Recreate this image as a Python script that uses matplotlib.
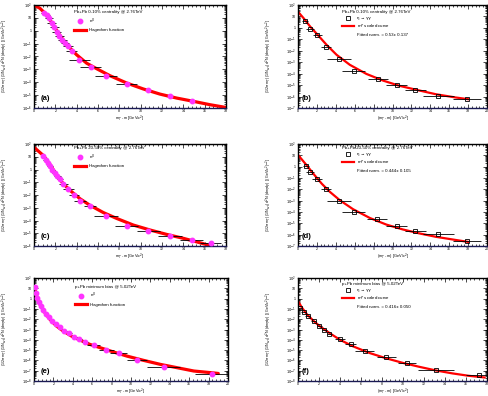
import matplotlib
matplotlib.use('Agg')
import matplotlib.pyplot as plt
from matplotlib.lines import Line2D
from matplotlib.ticker import (LogLocator, FuncFormatter, MultipleLocator,
                               AutoMinorLocator, NullFormatter)
import numpy as np

plt.rcParams['font.family'] = ['Liberation Sans', 'DejaVu Sans']
plt.rcParams['mathtext.fontset'] = 'dejavusans'

# ---------------- data ----------------
# (a) Pb+Pb 0-10% pi0 + Hagedorn
a_pi0_x = [0.97, 1.19, 1.41, 1.66, 1.91, 2.13, 2.38, 2.66, 2.91, 3.16, 3.53, 4.25, 5.31, 6.75, 8.69, 10.72, 12.75, 14.8]
a_pi0_y = [26, 17, 9.3, 4.3, 1.9, 0.87, 0.40, 0.19, 0.12, 0.068, 0.025, 5.5e-3, 1.5e-3, 3.2e-4, 7.6e-5, 2.3e-5, 8.9e-6, 3.5e-6]
a_pi0_xerr = [0.35, 0.35, 0.4, 0.4, 0.4, 0.4, 0.4, 0.4, 0.4, 0.45, 0.5, 1.0, 1.0, 1.0, 1.0, 0, 0, 0]
a_fit_x = [0, 0.56, 1.19, 1.81, 2.28, 2.75, 3.38, 4.0, 4.94, 5.88, 7.13, 8.69, 10.25, 11.81, 13.38, 14.94, 16.5, 18.0]
a_fit_y = [100, 55, 17, 2.8, 0.65, 0.19, 0.045, 0.0135, 3.0e-3, 1.12e-3, 3.2e-4, 8.7e-5, 3.0e-5, 1.2e-5, 5.9e-6, 3.3e-6, 1.8e-6, 1.1e-6]

# (b) Pb+Pb 0-10% eta + mT scaled
b_eta_x = [0.77, 1.29, 2.06, 2.97, 4.34, 5.9, 8.46, 10.45, 12.41, 14.86, 17.9]
b_eta_y = [4.3, 0.87, 0.24, 0.023, 1.8e-3, 1.55e-4, 3.3e-5, 9.3e-6, 3.9e-6, 1.23e-6, 6.3e-7]
b_eta_xerr = [0.3, 0.4, 0.5, 0.5, 1.3, 1.2, 1.1, 1.1, 1.1, 1.6, 1.5]
b_fit_x = [0, 0.6, 1.29, 1.99, 3.04, 4.09, 5.49, 7.24, 8.99, 10.73, 12.83, 14.58, 16.68, 18.0]
b_fit_y = [26, 6.9, 1.3, 0.30, 0.032, 4.4e-3, 5.9e-4, 9.5e-5, 2.5e-5, 8.7e-6, 3.4e-6, 1.6e-6, 8.3e-7, 5.9e-7]

# (c) Pb+Pb 20-50% pi0 + Hagedorn
c_pi0_x = [0.875, 1.09, 1.31, 1.5, 1.72, 1.94, 2.19, 2.44, 2.75, 3.22, 3.75, 4.31, 5.25, 6.75, 8.69, 10.72, 12.75, 14.78, 16.56]
c_pi0_y = [11, 6.0, 3.3, 1.8, 1.0, 0.55, 0.30, 0.17, 0.076, 0.028, 9.3e-3, 3.4e-3, 1.4e-3, 2.3e-4, 3.8e-5, 1.55e-5, 6.0e-6, 3.0e-6, 1.8e-6]
c_pi0_xerr = [0.2, 0.2, 0.2, 0.25, 0.25, 0.25, 0.3, 0.3, 0.4, 0.5, 0.5, 0.6, 0.6, 1.1, 1.1, 1.1, 1.1, 1.1, 1.0]
c_fit_x = [0, 0.875, 1.5, 2.13, 2.75, 3.38, 4.31, 5.25, 6.5, 7.75, 9.31, 10.88, 12.44, 14.0, 15.56, 16.3]
c_fit_y = [55, 12.6, 2.5, 0.34, 0.076, 0.023, 5.1e-3, 1.55e-3, 4.2e-4, 1.45e-4, 4.4e-5, 1.8e-5, 8.1e-6, 4.0e-6, 1.8e-6, 1.2e-6]

# (d) Pb+Pb 20-50% eta + mT scaled
d_eta_x = [0.87, 1.29, 1.99, 2.97, 4.34, 5.9, 8.36, 10.45, 12.41, 14.86, 17.9]
d_eta_y = [1.26, 0.37, 0.074, 9.8e-3, 9.3e-4, 1.0e-4, 2.3e-5, 6.0e-6, 2.3e-6, 1.1e-6, 2.9e-7]
d_eta_xerr = [0.3, 0.4, 0.5, 0.5, 1.3, 1.2, 1.1, 1.1, 1.1, 1.6, 1.5]
d_fit_x = [0, 0.94, 1.64, 2.52, 3.39, 4.44, 5.84, 7.59, 9.34, 11.08, 12.83, 14.58, 16.33, 18.0]
d_fit_y = [11, 1.26, 0.23, 0.031, 5.8e-3, 1.07e-3, 1.74e-4, 3.0e-5, 7.8e-6, 2.9e-6, 1.3e-6, 6.5e-7, 3.8e-7, 2.3e-7]

# (e) p+Pb pi0 + Hagedorn
e_pi0_x = [0.07, 0.21, 0.34, 0.52, 0.72, 0.97, 1.24, 1.55, 1.9, 2.28, 2.69, 3.14, 3.62, 4.14, 4.69, 5.28, 6.14, 7.45, 8.72, 10.62, 13.38, 18.31]
e_pi0_y = [13.5, 3.5, 1.15, 0.45, 0.18, 0.074, 0.033, 0.0155, 7.4e-3, 3.5e-3, 1.7e-3, 7.9e-4, 4.1e-4, 1.95e-4, 1.07e-4, 5.9e-5, 2.8e-5, 1.0e-5, 4.8e-6, 1.07e-6, 2.5e-7, 5.1e-8]
e_pi0_xerr = [0.05, 0.05, 0.05, 0.1, 0.1, 0.1, 0.15, 0.15, 0.2, 0.2, 0.2, 0.25, 0.25, 0.25, 0.3, 0.3, 0.7, 0.8, 0.9, 1.0, 1.7, 1.7]
e_fit_x = [0, 0.28, 0.62, 1.14, 1.66, 2.34, 3.03, 3.9, 4.76, 5.79, 6.83, 8.21, 9.59, 11.31, 13.03, 14.76, 16.48, 18.2, 19.0]
e_fit_y = [15.5, 1.7, 0.26, 0.041, 9.3e-3, 2.1e-3, 6.9e-4, 2.2e-4, 9.3e-5, 3.5e-5, 1.7e-5, 6.5e-6, 2.6e-6, 1.0e-6, 4.1e-7, 1.95e-7, 9.3e-8, 6.5e-8, 5.4e-8]

# (f) p+Pb eta + mT scaled
f_eta_x = [0.22, 0.53, 0.91, 1.48, 2.04, 2.52, 2.99, 4.0, 5.0, 6.35, 8.4, 10.38, 13.11, 17.26]
f_eta_y = [0.13, 0.050, 0.020, 6.8e-3, 2.2e-3, 8.7e-4, 3.5e-4, 1.2e-4, 3.9e-5, 8.9e-6, 2.0e-6, 5.4e-7, 1.2e-7, 3.5e-8]
f_eta_xerr = [0.2, 0.2, 0.2, 0.25, 0.25, 0.25, 0.25, 0.5, 0.5, 0.9, 0.9, 0.9, 1.7, 1.3]
f_fit_x = [0, 0.38, 0.85, 1.48, 2.11, 3.05, 4.0, 5.25, 6.82, 8.4, 9.97, 11.54, 13.11, 14.69, 16.26, 17.77]
f_fit_y = [0.58, 0.13, 0.030, 6.8e-3, 1.95e-3, 4.2e-4, 1.0e-4, 2.3e-5, 5.2e-6, 1.6e-6, 5.8e-7, 2.4e-7, 1.07e-7, 5.5e-8, 3.2e-8, 2.2e-8]

titles = ['Pb+Pb 0-10% centrality @ 2.76TeV', 'Pb+Pb 0-10% centrality @ 2.76TeV',
          'Pb+Pb 20-50% centrality @ 2.76TeV', 'Pb+Pb 20-50% centrality @ 2.76TeV',
          'p+Pb minimum bias @ 5.02TeV', 'p+Pb minimum bias @ 5.02TeV']
fit_norms = ['Fitted norm. = 0.53\u00b1 0.137', 'Fitted norm. = 0.444\u00b1 0.105', 'Fitted norm. = 0.416\u00b1 0.050']
panel_labels = ['(a)', '(b)', '(c)', '(d)', '(e)', '(f)']

# ---------------- figure ----------------
W, H = 488, 396
fig = plt.figure(figsize=(W / 100, H / 100), dpi=100)

def ax_at(l, t, r, b):
    return fig.add_axes([l / W, 1 - b / H, (r - l) / W, (b - t) / H])

axes = [ax_at(34, 5, 226, 108), ax_at(298, 5, 487, 108),
        ax_at(34, 144, 226, 246), ax_at(298, 144, 487, 246),
        ax_at(34, 278, 228, 381), ax_at(298, 278, 487, 381)]

ylab_l = r'(1/2$\pi$ m$_T$) (1/N$_{evt}$) d$^2$N/(dm$_T$dy)  [(GeV/c$^2$)$^{-2}$]'
xlab_l = r'm$_T$ - m [GeV/c$^2$]'
xlab_r = r'(m$_T$ - m) [GeV/c$^2$]'


def logfmt(v, pos):
    e = int(round(np.log10(v)))
    if e == 0:
        return '1'
    if e == 1:
        return '10'
    return r'$10^{%d}$' % e


def style(ax, xmax, ymin, ymax, xlabel):
    ax.set_xlim(0, xmax)
    ax.set_yscale('log')
    ax.set_ylim(ymin, ymax)
    ax.xaxis.set_major_locator(MultipleLocator(2))
    ax.xaxis.set_minor_locator(AutoMinorLocator(5))
    ax.yaxis.set_major_locator(LogLocator(base=10, numticks=30))
    ax.yaxis.set_minor_locator(LogLocator(base=10, subs=np.arange(2, 10), numticks=30))
    ax.yaxis.set_major_formatter(FuncFormatter(logfmt))
    ax.yaxis.set_minor_formatter(NullFormatter())
    ax.tick_params(which='both', direction='in', top=True, right=True,
                   labelsize=2.6, pad=1.5, width=0.5, colors='black')
    ax.tick_params(axis='x', which='both', pad=1.0)
    ax.tick_params(which='major', length=3)
    ax.tick_params(which='minor', length=1.5)
    for s in ax.spines.values():
        s.set_linewidth(1.0)
    ax.spines['bottom'].set_color('#1a1a55')
    ax.set_xlabel(xlabel, fontsize=2.8, labelpad=0.3)
    ax.set_ylabel(ylab_l, fontsize=2.6)
    ax.yaxis.set_label_coords(-0.125, 0.5)


def pi0_panel(ax, x, y, xerr, fx, fy, title, lbl, xmax, ymin, legy):
    ax.plot(fx, fy, color='red', lw=2.3, zorder=2, solid_capstyle='round')
    ax.errorbar(x, y, xerr=xerr, fmt='o', color='#ff33ff', mec='#ff33ff',
                ms=3.2, ecolor='black', elinewidth=0.6, capsize=0, zorder=3)
    style(ax, xmax, ymin, 1e2, xlab_l)
    h = [Line2D([], [], ls='none', marker='o', color='#ff33ff', ms=3.2),
         Line2D([], [], color='red', lw=2.3)]
    ax.legend(h, [r'$\pi^0$', 'Hagedorn function'], title=title, loc='upper left',
              bbox_to_anchor=(0.21, legy), borderaxespad=0, borderpad=0,
              frameon=False, fontsize=3.2, title_fontsize=3.2, handlelength=2.7,
              handletextpad=0.7, labelspacing=0.55, alignment='left')
    ax.text(0.035, 0.09, lbl, transform=ax.transAxes, fontsize=5.5,
            fontweight='bold', va='center', ha='left')


def eta_panel(ax, x, y, xerr, fx, fy, title, norm, lbl, xmax, ymin, legy):
    ax.plot(fx, fy, color='red', lw=1.6, zorder=2)
    ax.errorbar(x, y, xerr=xerr, fmt='s', mfc='none', mec='black', ms=3.0, mew=0.6,
                ecolor='black', elinewidth=0.6, capsize=0, zorder=3)
    style(ax, xmax, ymin, 1e2, xlab_r)
    h = [Line2D([], [], ls='none', marker='s', mfc='none', mec='black', ms=3.0, mew=0.6),
         Line2D([], [], color='red', lw=1.6),
         Line2D([], [], ls='none')]
    ax.legend(h, ['\u03b7 \u2192 \u03b3\u03b3', r'm$_T$ scaled curve', norm], title=title,
              loc='upper left', bbox_to_anchor=(0.235, legy), borderaxespad=0, borderpad=0,
              frameon=False, fontsize=3.2, title_fontsize=3.2, handlelength=2.5,
              handletextpad=0.7, labelspacing=0.55, alignment='left')
    ax.text(0.02, 0.09, lbl, transform=ax.transAxes, fontsize=5.5,
            fontweight='bold', va='center', ha='left')


pi0_panel(axes[0], a_pi0_x, a_pi0_y, a_pi0_xerr, a_fit_x, a_fit_y, titles[0], panel_labels[0], 18, 1e-6, 0.95)
eta_panel(axes[1], b_eta_x, b_eta_y, b_eta_xerr, b_fit_x, b_fit_y, titles[1], fit_norms[0], panel_labels[1], 20, 1e-7, 0.955)
pi0_panel(axes[2], c_pi0_x, c_pi0_y, c_pi0_xerr, c_fit_x, c_fit_y, titles[2], panel_labels[2], 18, 1e-6, 0.98)
eta_panel(axes[3], d_eta_x, d_eta_y, d_eta_xerr, d_fit_x, d_fit_y, titles[3], fit_norms[1], panel_labels[3], 20, 1e-7, 0.985)
pi0_panel(axes[4], e_pi0_x, e_pi0_y, e_pi0_xerr, e_fit_x, e_fit_y, titles[4], panel_labels[4], 20, 1e-8, 0.935)
eta_panel(axes[5], f_eta_x, f_eta_y, f_eta_xerr, f_fit_x, f_fit_y, titles[5], fit_norms[2], panel_labels[5], 18, 1e-8, 0.965)

fig.savefig('out.png', dpi=100)
